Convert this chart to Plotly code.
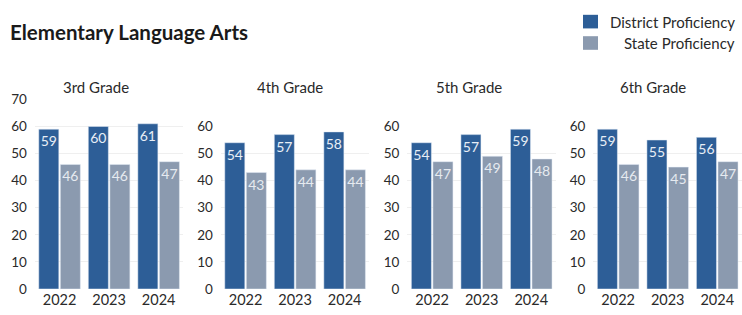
import plotly.graph_objects as go

years = ["2022", "2023", "2024"]
grades = ["3rd Grade", "4th Grade", "5th Grade", "6th Grade"]
district = [
    [59, 60, 61],
    [54, 57, 58],
    [54, 57, 59],
    [59, 55, 56],
]
state = [
    [46, 46, 47],
    [43, 44, 44],
    [47, 49, 48],
    [46, 45, 47],
]
y_max = [70, 60, 60, 60]
y_ticks = [[0, 10, 20, 30, 40, 50, 60, 70]] + [[0, 10, 20, 30, 40, 50, 60]] * 3

W, H = 742, 315
MB = 26
PH = H - MB  # plot region height (margin top 0)
px_per_unit = 195 / 70.0
lefts = [34.8, 220.8, 407.4, 593.4]
pw = 148.6
title_cx = [95.5, 290, 469, 653]

C_DIST = "#2D5E97"
C_STATE = "#8B9AAF"
FONT = "Lato"

fig = go.Figure()
for i in range(4):
    xa = "x" if i == 0 else f"x{i+1}"
    ya = "y" if i == 0 else f"y{i+1}"
    fig.add_trace(go.Bar(
        x=years, y=district[i], name="District Proficiency", marker_color=C_DIST,
        xaxis=xa, yaxis=ya, showlegend=False,
        texttemplate="%{y}", textposition="inside", insidetextanchor="end",
        textangle=0, textfont=dict(color="#E8EEF6", size=14, family=FONT),
    ))
    fig.add_trace(go.Bar(
        x=years, y=state[i], name="State Proficiency", marker_color=C_STATE,
        xaxis=xa, yaxis=ya, showlegend=False,
        texttemplate="%{y}", textposition="inside", insidetextanchor="end",
        textangle=0, textfont=dict(color="#E6EAF0", size=14, family=FONT),
    ))

layout = dict(
    width=W, height=H,
    margin=dict(l=0, r=0, t=0, b=MB),
    plot_bgcolor="white", paper_bgcolor="white",
    barmode="group", bargap=0.13, bargroupgap=0.07,
    font=dict(family=FONT, color="#2a2a2a", size=14),
    uniformtext=dict(minsize=13, mode="show"),
    showlegend=False,
)
for i in range(4):
    sx = "" if i == 0 else str(i + 1)
    top = PH - y_max[i] * px_per_unit
    layout["xaxis" + sx] = dict(
        domain=[lefts[i] / W, (lefts[i] + pw) / W], anchor="y" + sx,
        type="category", showgrid=False, zeroline=False, showline=False,
        tickfont=dict(size=14.5, family=FONT, color="#2a2a2a"), ticks="",
    )
    layout["yaxis" + sx] = dict(
        domain=[0, (PH - top) / PH], anchor="x" + sx,
        range=[0, y_max[i]], tickvals=y_ticks[i],
        showgrid=True, gridcolor="#EFEFEF", gridwidth=1, zeroline=False,
        showline=False, ticks="", ticklabelstandoff=7,
        tickfont=dict(size=13.5, family=FONT, color="#2a2a2a"),
    )
fig.update_layout(**layout)

annotations = [dict(
    text="<b>Elementary Language Arts</b>", x=8 / W, y=(PH - 25) / PH,
    xref="paper", yref="paper", xanchor="left", yanchor="middle",
    showarrow=False, font=dict(size=20.5, family=FONT, color="#1a1a1a"),
)]
for i, g in enumerate(grades):
    annotations.append(dict(
        text=g, x=title_cx[i] / W, y=(PH - 81) / PH, xref="paper", yref="paper",
        xanchor="center", yanchor="middle", showarrow=False,
        font=dict(size=15, family=FONT, color="#2a2a2a"),
    ))
legend_items = [("District Proficiency", C_DIST, 7, 21), ("State Proficiency", C_STATE, 29, 43)]
shapes = []
for name, col, y0, y1 in legend_items:
    shapes.append(dict(
        type="rect", xref="paper", yref="paper",
        x0=583 / W, x1=598 / W, y0=(PH - y1) / PH, y1=(PH - y0) / PH,
        fillcolor=col, line=dict(width=0),
    ))
    annotations.append(dict(
        text=name, x=737 / W, y=(PH - (y0 + y1) / 2) / PH, xref="paper", yref="paper",
        xanchor="right", yanchor="middle", showarrow=False,
        font=dict(size=15, family=FONT, color="#2a2a2a"),
    ))
fig.update_layout(annotations=annotations, shapes=shapes)

fig.write_html("out.html", config={"displayModeBar": False},
               post_script="document.body.style.margin='0px';")
